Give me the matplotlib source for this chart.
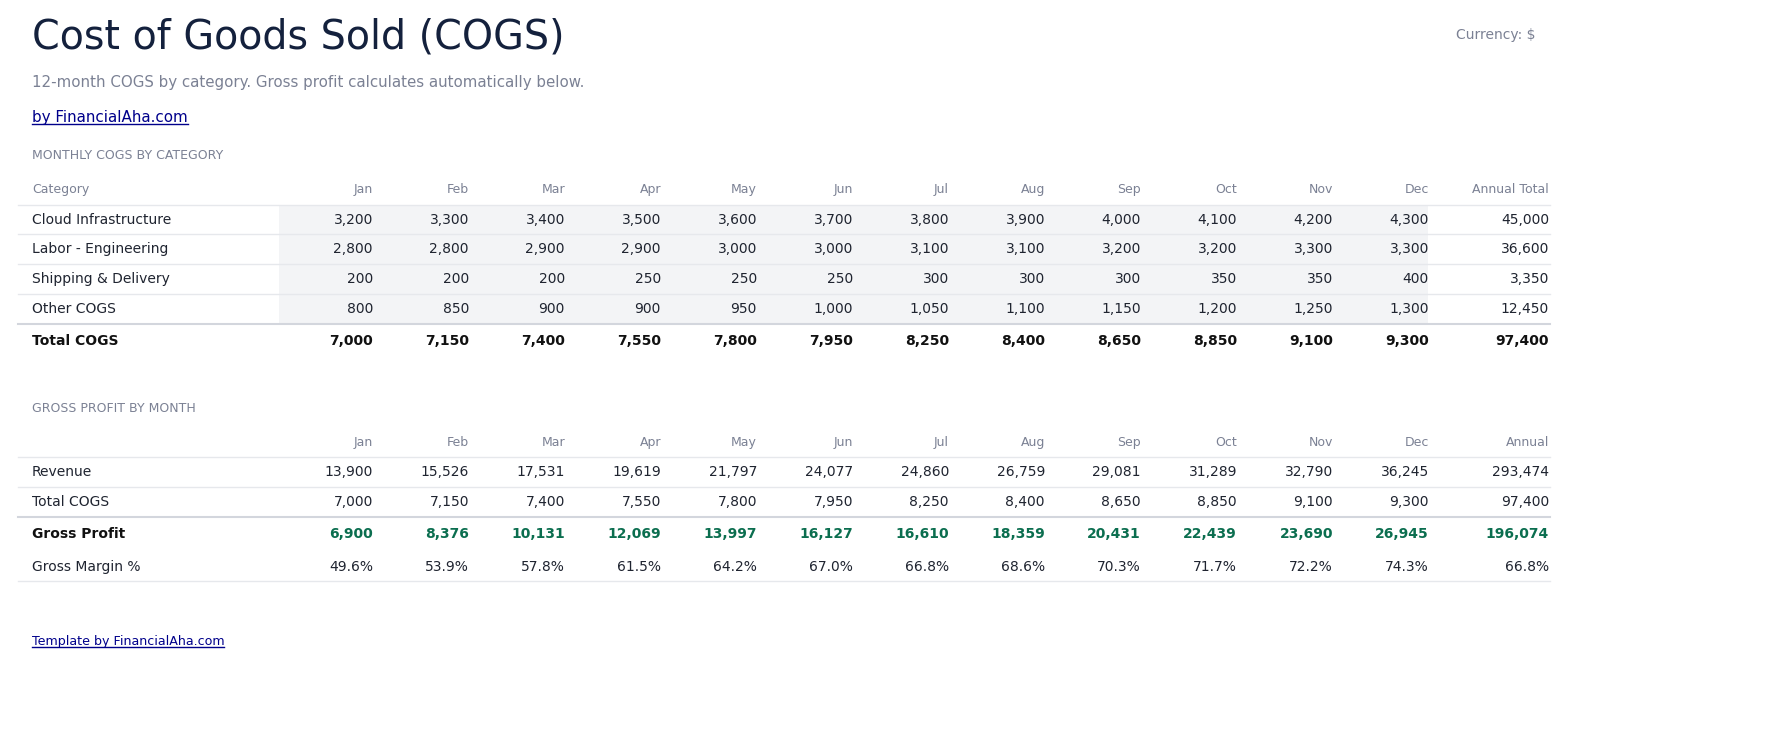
import matplotlib.pyplot as plt

months = ['Jan', 'Feb', 'Mar', 'Apr', 'May', 'Jun', 'Jul', 'Aug', 'Sep', 'Oct', 'Nov', 'Dec']
categories = ['Cloud Infrastructure', 'Labor - Engineering', 'Shipping & Delivery', 'Other COGS']
cogs = [
    [3200, 3300, 3400, 3500, 3600, 3700, 3800, 3900, 4000, 4100, 4200, 4300],
    [2800, 2800, 2900, 2900, 3000, 3000, 3100, 3100, 3200, 3200, 3300, 3300],
    [200, 200, 200, 250, 250, 250, 300, 300, 300, 350, 350, 400],
    [800, 850, 900, 900, 950, 1000, 1050, 1100, 1150, 1200, 1250, 1300],
]
revenue = [13900, 15526, 17531, 19619, 21797, 24077, 24860, 26759, 29081, 31289, 32790, 36245]

total_cogs = [sum(c) for c in zip(*cogs)]
gross = [r - c for r, c in zip(revenue, total_cogs)]
margin = [g / r * 100 for g, r in zip(gross, revenue)]

DARK = '#1f2430'
MUTED = '#7b8194'
GREEN = '#0b6e4f'
LINE = '#e6e8ec'

fig = plt.figure(figsize=(17.72, 7.53), dpi=100)
ax = fig.add_axes([0, 0, 1, 1])
ax.set_xlim(0, 1772)
ax.set_ylim(753, 0)
ax.axis('off')

col_x = [373 + 96 * i for i in range(12)]
tot_x = 1549
fs = 10
hfs = 9


def hline(y, color=LINE, lw=1):
    ax.plot([18, 1550], [y, y], color=color, lw=lw)


def fmt(v):
    return f'{v:,.0f}'


ax.text(32, 37, 'Cost of Goods Sold (COGS)', fontsize=28.5, color='#14213d', va='center')
ax.text(1536, 35, 'Currency: $', fontsize=10, color=MUTED, va='center', ha='right')
ax.text(32, 82, '12-month COGS by category. Gross profit calculates automatically below.',
        fontsize=10.8, color=MUTED, va='center')
ax.text(32, 117, 'by FinancialAha.com', fontsize=10.9, color='#00008b', va='center')
ax.plot([32, 188], [124, 124], color='#00008b', lw=1)

# section 1
ax.text(32, 155, 'MONTHLY COGS BY CATEGORY', fontsize=hfs, color=MUTED, va='center')
ax.text(32, 189, 'Category', fontsize=hfs, color=MUTED, va='center')
for m, x in zip(months, col_x):
    ax.text(x, 189, m, fontsize=hfs, color=MUTED, va='center', ha='right')
ax.text(tot_x, 189, 'Annual Total', fontsize=hfs, color=MUTED, va='center', ha='right')

ax.fill_between([279, 1428], 205, 324, color='#f3f4f6', lw=0)
row_y = [220, 249, 279, 309]
for y in [205, 234, 264, 294]:
    hline(y)
hline(324, '#d3d6dd', 1.5)
for cat, vals, y in zip(categories, cogs, row_y):
    ax.text(32, y, cat, fontsize=fs, color=DARK, va='center')
    for v, x in zip(vals, col_x):
        ax.text(x, y, fmt(v), fontsize=fs, color=DARK, va='center', ha='right')
    ax.text(tot_x, y, fmt(sum(vals)), fontsize=fs, color=DARK, va='center', ha='right')

ax.text(32, 341, 'Total COGS', fontsize=fs, color='#111111', va='center', weight='bold')
for v, x in zip(total_cogs, col_x):
    ax.text(x, 341, fmt(v), fontsize=fs, color='#111111', va='center', ha='right', weight='bold')
ax.text(tot_x, 341, fmt(sum(total_cogs)), fontsize=fs, color='#111111', va='center', ha='right', weight='bold')

# section 2
ax.text(32, 408, 'GROSS PROFIT BY MONTH', fontsize=hfs, color=MUTED, va='center')
for m, x in zip(months, col_x):
    ax.text(x, 442, m, fontsize=hfs, color=MUTED, va='center', ha='right')
ax.text(tot_x, 442, 'Annual', fontsize=hfs, color=MUTED, va='center', ha='right')

hline(457)
hline(487)
hline(517, '#d3d6dd', 1.5)
hline(581)
rows = [('Revenue', revenue, 472), ('Total COGS', total_cogs, 502)]
for name, vals, y in rows:
    ax.text(32, y, name, fontsize=fs, color=DARK, va='center')
    for v, x in zip(vals, col_x):
        ax.text(x, y, fmt(v), fontsize=fs, color=DARK, va='center', ha='right')
    ax.text(tot_x, y, fmt(sum(vals)), fontsize=fs, color=DARK, va='center', ha='right')

ax.text(32, 534, 'Gross Profit', fontsize=fs, color='#111111', va='center', weight='bold')
for v, x in zip(gross, col_x):
    ax.text(x, 534, fmt(v), fontsize=fs, color=GREEN, va='center', ha='right', weight='bold')
ax.text(tot_x, 534, fmt(sum(gross)), fontsize=fs, color=GREEN, va='center', ha='right', weight='bold')

ax.text(32, 567, 'Gross Margin %', fontsize=fs, color=DARK, va='center')
for v, x in zip(margin, col_x):
    ax.text(x, 567, f'{v:.1f}%', fontsize=fs, color=DARK, va='center', ha='right')
ax.text(tot_x, 567, f'{sum(gross) / sum(revenue) * 100:.1f}%', fontsize=fs, color=DARK, va='center', ha='right')

ax.text(32, 641, 'Template by FinancialAha.com', fontsize=9.1, color='#00008b', va='center')
ax.plot([32, 224], [647, 647], color='#00008b', lw=1)

fig.savefig('out.png', dpi=100)
